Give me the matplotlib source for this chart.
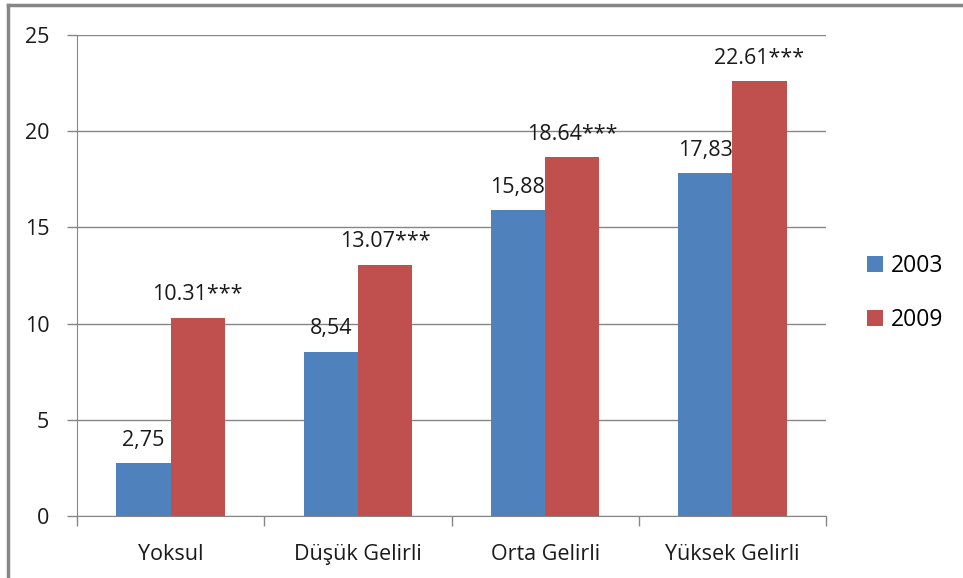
import matplotlib
matplotlib.use("Agg")
import matplotlib.pyplot as plt
from matplotlib.lines import Line2D
from matplotlib.patches import Patch
import numpy as np

categories = ["Yoksul", "Düşük Gelirli", "Orta Gelirli", "Yüksek Gelirli"]
series_names = ["2003", "2009"]
values_2003 = [2.75, 8.54, 15.88, 17.83]
values_2009 = [10.31, 13.07, 18.64, 22.61]
labels_2003 = ["2,75", "8,54", "15,88", "17,83"]
labels_2009 = ["10.31***", "13.07***", "18.64***", "22.61***"]
yticks = [0, 5, 10, 15, 20, 25]

plt.rcParams['font.family'] = ['Open Sans', 'DejaVu Sans']
blue = "#4F81BD"
red = "#C0504D"
gray = "#868686"
txt = "#1a1a1a"
fs = 15.5

fig = plt.figure(figsize=(9.63, 5.78), dpi=100)
ax = fig.add_axes([77/963, 1-516/578, (826-77)/963, (516-35)/578])

x = np.arange(len(categories))
w = 0.29
b1 = ax.bar(x - w/2, values_2003, w, color=blue, label=series_names[0], zorder=3)
b2 = ax.bar(x + w/2, values_2009, w, color=red, label=series_names[1], zorder=3)

for rect, lab in zip(b1, labels_2003):
    ax.annotate(lab, (rect.get_x() + rect.get_width()/2, rect.get_height()),
                xytext=(0, 12.5), textcoords="offset points", ha="center", va="baseline",
                fontsize=fs, color=txt)
for rect, lab in zip(b2, labels_2009):
    ax.annotate(lab, (rect.get_x() + rect.get_width()/2, rect.get_height()),
                xytext=(0, 12.5), textcoords="offset points", ha="center", va="baseline",
                fontsize=fs, color=txt)

ax.set_xlim(-0.5, len(categories) - 0.5)
ax.set_ylim(0, 25)
ax.set_yticks(yticks)
ax.set_yticklabels([str(t) for t in yticks], fontsize=fs, color=txt)
ax.yaxis.grid(True, color=gray, linewidth=1)
ax.set_axisbelow(True)

ax.set_xticks(x)
ax.set_xticklabels(categories, fontsize=fs, color=txt)
ax.tick_params(axis='x', length=0, pad=20)
ax.set_xticks(np.arange(len(categories) + 1) - 0.5, minor=True)
ax.tick_params(axis='x', which='minor', length=7, color=gray, width=1)
ax.tick_params(axis='y', length=7, color=gray, width=1, pad=13)

for s in ["top", "right"]:
    ax.spines[s].set_visible(False)
ax.spines["left"].set_color(gray)
ax.spines["bottom"].set_color(gray)

handles = [Patch(facecolor=blue, label="2003"), Patch(facecolor=red, label="2009")]
fig.legend(handles=handles, loc="center left", bbox_to_anchor=(867/963, 1-293/578),
           frameon=False, fontsize=16.5, handlelength=0.7, handleheight=0.7,
           handletextpad=0.35, labelspacing=1.3, borderpad=0, borderaxespad=0)

# outer chart border
fig.add_artist(Line2D([8/963, 8/963], [0, 1-5/578], transform=fig.transFigure, color=gray, linewidth=2.5))
fig.add_artist(Line2D([8/963, 1], [1-5/578, 1-5/578], transform=fig.transFigure, color=gray, linewidth=2.5))

fig.savefig("out.png", dpi=100)
